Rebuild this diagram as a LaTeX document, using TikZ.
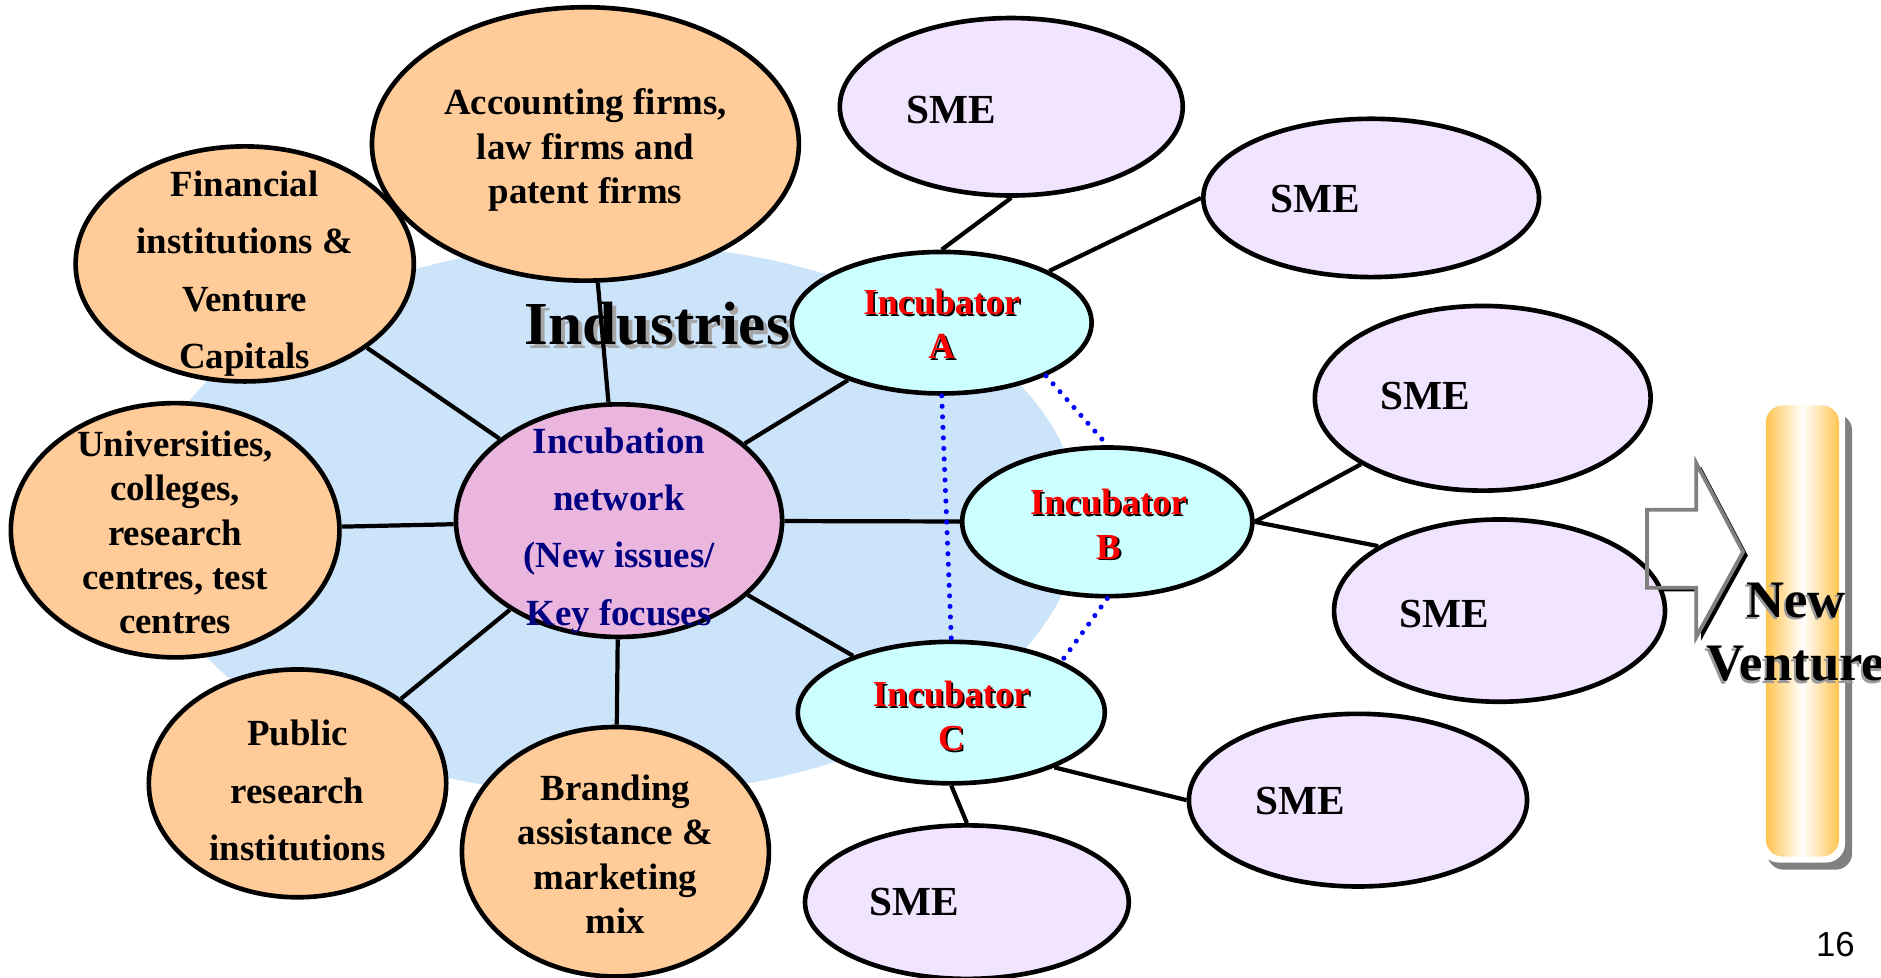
\documentclass[tikz,border=0pt]{standalone}
\usepackage{fontspec}
\setmainfont{Liberation Serif}
\setsansfont{Liberation Sans}
\usetikzlibrary{shapes.geometric}
\definecolor{bgblue}{RGB}{204,228,250}
\definecolor{orangefill}{RGB}{255,204,153}
\definecolor{pinkfill}{RGB}{234,182,222}
\definecolor{cyanfill}{RGB}{204,255,255}
\definecolor{smefill}{RGB}{240,228,255}
\definecolor{navytext}{RGB}{0,0,128}
\definecolor{barorange}{RGB}{255,196,80}
\definecolor{shadowgray}{RGB}{128,128,128}
\tikzset{
  ell/.style={ellipse, draw=black, line width=2.2pt, inner sep=0pt},
  sz/.style 2 args={minimum width=#1*0.04cm, minimum height=#2*0.04cm},
  orgell/.style={ell, fill=orangefill},
  netell/.style={ell, fill=pinkfill},
  incell/.style={ell, fill=cyanfill},
  smeell/.style={ell, fill=smefill},
  conn/.style={line width=2pt, black},
  dotconn/.style={blue, line width=2.4pt, line cap=round, dash pattern=on 0pt off 5pt},
  otext/.style={align=center, inner sep=0pt, font=\fontsize{17.5}{21}\selectfont\bfseries},
  otextwide/.style={align=center, inner sep=0pt, font=\fontsize{17.5}{27.2}\selectfont\bfseries},
  inctext/.style={align=center, inner sep=0pt, text=red, font=\fontsize{17.4}{21}\selectfont\bfseries},
  incshadow/.style={inctext, text=black},
  smetext/.style={inner sep=0pt, font=\fontsize{19.6}{23}\selectfont\bfseries},
  nvtext/.style={align=center, inner sep=0pt, font=\fontsize{25}{30}\selectfont\bfseries},
}
\begin{document}
\begin{tikzpicture}[x=0.02cm, y=-0.02cm]
\useasboundingbox (0,0) rectangle (1568,815);

% background cloud
\node[ellipse, fill=bgblue, inner sep=0pt, sz={390}{230}] (bg) at (510,433) {};
% Industries
\node[inner sep=0pt, text=shadowgray!70, font=\fontsize{29}{34}\selectfont\bfseries] (indsh) at (551,273) {Industries};
\node[inner sep=0pt, font=\fontsize{29}{34}\selectfont\bfseries] (ind) at (548,270) {Industries};

% New venture bar and arrow
\fill[shadowgray, rounded corners=8] (1473,345) rectangle (1544,725);
\fill[white, rounded corners=9] (1467,333) rectangle (1538,719);
\shade[left color=barorange, right color=barorange, middle color=white, rounded corners=8] (1472,338) rectangle (1533,714);
\fill[black] (1377,428) -- (1418,428) -- (1418,389) -- (1457,463) -- (1418,534) -- (1418,493) -- (1377,493) -- cycle;
\fill[white] (1373,425) -- (1414,425) -- (1414,386) -- (1453,460) -- (1414,531) -- (1414,490) -- (1373,490) -- cycle;

% ellipses
\node[orgell, sz={178}{114}] (acc) at (488,120) {};
\node[orgell, sz={141}{98}] (fin) at (204,220) {};
\node[orgell, sz={137}{106}] (uni) at (146,442) {};
\node[orgell, sz={124}{95}] (pub) at (248,653) {};
\node[orgell, sz={128}{104}] (bra) at (513,710) {};
\node[netell, sz={136}{97}] (net) at (516,434) {};
\node[incell, sz={125}{59}] (incA) at (785,269) {};
\node[incell, sz={121}{62}] (incB) at (923,435) {};
\node[incell, sz={128}{59}] (incC) at (793,594) {};
\node[smeell, sz={143}{74}] (sme1) at (843,89) {};
\node[smeell, sz={140}{66}] (sme2) at (1143,165) {};
\node[smeell, sz={140}{77}] (sme3) at (1236,332) {};
\node[smeell, sz={138}{76}] (sme4) at (1250,509) {};
\node[smeell, sz={141}{72}] (sme5) at (1132,667) {};
\node[smeell, sz={135}{64}] (sme6) at (806,752) {};

% arrow outline on top
\draw[shadowgray, line width=1.8pt, line join=miter] (1373,425) -- (1414,425) -- (1414,386) -- (1453,460) -- (1414,531) -- (1414,490) -- (1373,490) -- cycle;

% connectors
\draw[conn] (acc) -- (net);
\draw[conn] (fin) -- (net);
\draw[conn] (uni) -- (net);
\draw[conn] (pub) -- (net);
\draw[conn] (bra) -- (net);
\draw[conn] (net) -- (incA);
\draw[conn] (net) -- (incB);
\draw[conn] (net) -- (incC);
\draw[conn] (incA.north) -- (sme1.south);
\draw[conn] (incA) -- (sme2.west);
\draw[conn] (incB.east) -- (sme3);
\draw[conn] (incB.east) -- (sme4.152);
\draw[conn] (incC.-28) -- (sme5.west);
\draw[conn] (incC.south) -- (sme6.north);

% dotted links
\draw[dotconn] (incA.south) -- (incC.north);
\draw[dotconn] (incA.-27) -- (incB.north);
\draw[dotconn] (incB.south) -- (incC.25);

% texts
\node[otext] (tacc) at (488,125) {Accounting firms,\\law firms and\\patent firms};
\node[otextwide] (tfin) at (204,228) {Financial\\institutions \&\\Venture\\Capitals};
\node[otext] (tuni) at (146,444) {Universities,\\colleges,\\research\\centres, test\\centres};
\node[otextwide, text=navytext] (tnet) at (516,442) {Incubation\\network\\(New issues/\\Key focuses};
\node[otextwide] (tpub) at (248,659) {Public\\research\\institutions};
\node[otext] (tbra) at (513,712) {Branding\\assistance \&\\marketing\\mix};

\node[incshadow] (tAs) at (786.5,271.5) {Incubator\\A};
\node[inctext] (tA) at (785,270) {Incubator\\A};
\node[incshadow] (tBs) at (925.5,438.5) {Incubator\\B};
\node[inctext] (tB) at (924,437) {Incubator\\B};
\node[incshadow] (tCs) at (794.5,598.5) {Incubator\\C};
\node[inctext] (tC) at (793,597) {Incubator\\C};

\node[smetext] (ts1) at (793,92) {SME};
\node[smetext] (ts2) at (1096,166) {SME};
\node[smetext] (ts3) at (1188,330) {SME};
\node[smetext] (ts4) at (1204,512) {SME};
\node[smetext] (ts5) at (1084,668) {SME};
\node[smetext] (ts6) at (762,752) {SME};

\node[nvtext, text=shadowgray!80] (nvs) at (1495.5,529) {New\\Venture};
\node[nvtext] (nv) at (1497,527) {New\\Venture};

\node[inner sep=0pt, font=\sffamily\fontsize{16.5}{20}\selectfont] (pg) at (1530,787) {16};
\end{tikzpicture}
\end{document}
